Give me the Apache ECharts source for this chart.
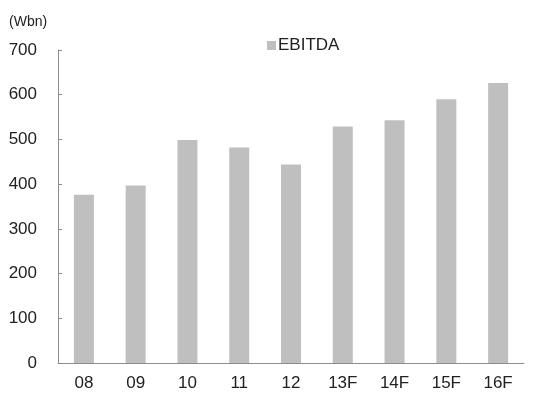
<!DOCTYPE html>
<html>
<head>
<meta charset="utf-8">
<script src="https://cdn.jsdelivr.net/npm/echarts@6/dist/echarts.min.js"></script>
<style>html,body{margin:0;padding:0;background:#fff}#c{width:538px;height:393px}</style>
</head>
<body>
<div id="c"></div>
<script>
var categories = ['08', '09', '10', '11', '12', '13F', '14F', '15F', '16F'];
var ebitda = [376, 397, 499, 482, 444, 529, 543, 590, 626];
var seriesName = 'EBITDA';
var unitLabel = '(Wbn)';

var chart = echarts.init(document.getElementById('c'));
var font = 'Liberation Sans, Arial, sans-serif';
chart.setOption({
  animation: false,
  textStyle: { fontFamily: font },
  title: {
    text: unitLabel, left: 4, top: 10,
    textStyle: { fontSize: 14, fontWeight: 'normal', color: '#222', fontFamily: font }
  },
  legend: {
    data: [seriesName], left: 262, top: 32, icon: 'rect',
    itemWidth: 9, itemHeight: 9, itemGap: 4,
    textStyle: { fontSize: 17, color: '#222', fontFamily: font, padding: [0, 0, 0, -3] }
  },
  grid: { left: 58, right: 14, top: 50, bottom: 30, containLabel: false },
  xAxis: {
    type: 'category', data: categories,
    axisLine: { lineStyle: { color: '#8c8c8c', width: 1 } },
    axisTick: { inside: true, length: 5, lineStyle: { color: '#8c8c8c' } },
    axisLabel: { fontSize: 17, color: '#222', margin: 12, fontFamily: font }
  },
  yAxis: {
    type: 'value', min: 0, max: 700, interval: 100,
    axisLine: { show: true, lineStyle: { color: '#8c8c8c', width: 1 } },
    axisTick: { show: true, inside: true, length: 4, lineStyle: { color: '#8c8c8c' } },
    splitLine: { show: false },
    axisLabel: { fontSize: 17, color: '#222', margin: 21, fontFamily: font }
  },
  series: [{
    name: seriesName, type: 'bar', data: ebitda,
    barWidth: 20, itemStyle: { color: '#bfbfbf' }
  }]
});
</script>
</body>
</html>
